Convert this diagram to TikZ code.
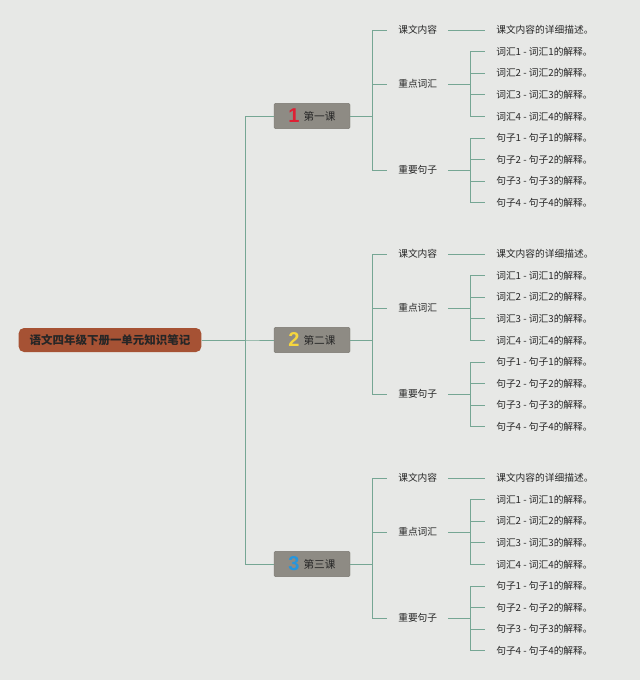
\documentclass[tikz,border=0pt]{standalone}
\usepackage{fontspec}
\setmainfont{Noto Sans CJK SC}
\newfontfamily\numfont{Liberation Sans}
\definecolor{PaperGray}{RGB}{231,232,230}
\definecolor{BranchGreen}{RGB}{118,166,148}
\definecolor{RootBrown}{RGB}{166,82,52}
\definecolor{LessonGray}{RGB}{142,139,132}
\definecolor{NumRed}{RGB}{222,32,52}
\definecolor{NumYellow}{RGB}{246,214,62}
\definecolor{NumBlue}{RGB}{38,150,222}
\usetikzlibrary{positioning}

\begin{document}
\begin{tikzpicture}[x=0.75pt,y=-0.75pt,
      root/.style={fill=RootBrown,rounded corners=4pt,minimum width=137pt,minimum height=18pt,
                   font=\fontsize{8.6}{10}\selectfont\bfseries,text=black!85,inner sep=2pt},
      lesson/.style={fill=LessonGray,draw=LessonGray!85!black,line width=0.3pt,rounded corners=1pt,
                     minimum width=57pt,minimum height=19pt,font=\fontsize{8}{10}\selectfont,text=black!85,inner sep=1pt},
      topic/.style={anchor=west,inner xsep=8.25pt,inner ysep=1pt,font=\fontsize{7.3}{9}\selectfont,text=black!85},
      leaf/.style={anchor=west,inner xsep=8.25pt,inner ysep=1pt,font=\fontsize{7.3}{9}\selectfont,text=black!85},
      ln/.style={draw=BranchGreen,line width=0.6pt}]
    \fill[PaperGray] (0,0) rectangle (640,680);
    \node[root] (root) at (110,340) {语文四年级下册一单元知识笔记};
    \foreach \i/\num/\col/\name in {1/1/NumRed/第一课,2/2/NumYellow/第二课,3/3/NumBlue/第三课} {
      \pgfmathsetmacro{\yy}{116+224*(\i-1)}
      \node[lesson] (l\i) at (312,\yy)
        {\raisebox{-2pt}{\textcolor{\col}{\numfont\fontsize{15}{15}\selectfont\bfseries\num}}\hspace{3pt}\name};
      \draw[ln] (root.east) -- ++(44,0) |- (l\i.west);
      % topics
      \node[topic] (t\i a) at (387,\yy-86) {课文内容};
      \node[topic] (t\i b) at (387,\yy-32) {重点词汇};
      \node[topic] (t\i c) at (387,\yy+54) {重要句子};
      \foreach \t in {a,b,c} \draw[ln] (l\i.east) -- ++(22,0) |- (t\i\t.west);
      % leaves
      \node[leaf] (d\i) at (485,\yy-86) {课文内容的详细描述。};
      \draw[ln] (t\i a.east) -- (d\i.west);
      \foreach \k in {1,...,4} {
        \node[leaf] (w\i\k) at (485,\yy-86+21.6*\k) {词汇\k\ - 词汇\k 的解释。};
        \node[leaf] (s\i\k) at (485,\yy+0.4+21.6*\k) {句子\k\ - 句子\k 的解释。};
        \draw[ln] (t\i b.east) -- ++(22,0) |- (w\i\k.west);
        \draw[ln] (t\i c.east) -- ++(22,0) |- (s\i\k.west);
      }
    }
  \end{tikzpicture}
\end{document}
